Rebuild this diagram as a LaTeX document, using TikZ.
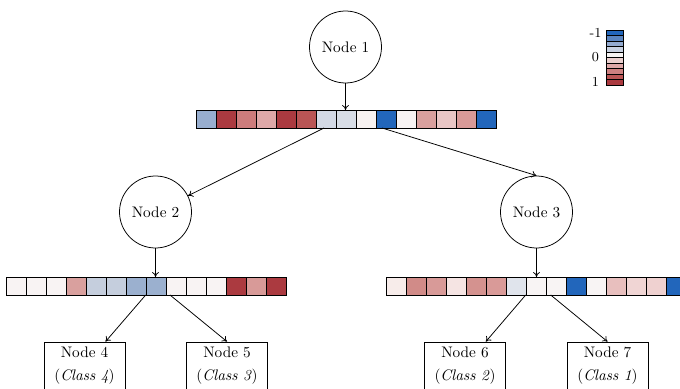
\documentclass[tikz,border=0pt]{standalone}
\usetikzlibrary{arrows.meta}
\tikzset{
  treenode/.style={draw, circle, line width=0.5pt, minimum size=47.16pt, inner sep=0pt, font=\normalsize},
  leafbox/.style={draw, rectangle, line width=0.5pt, minimum width=53.06pt, minimum height=31.44pt, inner sep=0pt, align=center},
  strip/.style={rectangle, inner sep=0pt, minimum height=11.79pt},
  conn/.style={line width=0.5pt, -{To[length=3.2pt,width=4.4pt]}},
  cell/.style={draw=black, line width=0.55pt},
  barlabel/.style={font=\small, inner sep=0pt}
}
\newcommand{\cellrow}[3]{%
  \foreach \c [count=\i from 0] in {#3} {%
    \definecolor{tmpc}{HTML}{\c}%
    \filldraw[cell, fill=tmpc] (#1+20*\i,#2) rectangle ++(20,18);
  }%
}
\begin{document}
\begin{tikzpicture}[x=0.655pt,y=-0.655pt]
\useasboundingbox (0,0) rectangle (680,389);
\clip (0,0) rectangle (680,389);

% nodes
\node[treenode] (n1) at (345.5,47) {Node 1};
\node[treenode] (n2) at (155.5,212) {Node 2};
\node[treenode] (n3) at (536.5,212) {Node 3};

% strips
\node[strip, minimum width=196.5pt, anchor=north west] (s1) at (196,110) {};
\node[strip, minimum width=183.4pt, anchor=north west] (s2) at (6,277) {};
\node[strip, minimum width=196.5pt, anchor=north west] (s3) at (386.7,277) {};

\cellrow{196}{110}{98AECF,AB3A40,CD7C7C,DEA8A8,AB3A40,B95555,D3D9E5,D8DDE6,F7F2F1,2266BB,F7F3F3,D9A09E,E9C6C5,D99A98,2266BB}
\cellrow{6}{277}{F8F3F3,F8F3F3,F8F3F3,D9A09E,C5CEDD,C5CEDD,9BB0CF,9BB0CF,F8F3F3,F8F3F3,F8F3F3,AB3A40,D89A98,AB3A40}
\cellrow{386.7}{277}{F7ECEA,D18B88,D89A98,F5E4E3,D4928F,D99A98,E0E4EC,F8F4F4,F8F4F4,2266BB,F8F4F4,E8BFBE,F0D5D4,EFD1D0,2266BB}

% leaves
\node[leafbox] (n4) at (84.5,366) {Node 4\\[3pt](\textit{Class 4})};
\node[leafbox] (n5) at (227,366) {Node 5\\[3pt](\textit{Class 3})};
\node[leafbox] (n6) at (465,366) {Node 6\\[3pt](\textit{Class 2})};
\node[leafbox] (n7) at (607.5,366) {Node 7\\[3pt](\textit{Class 1})};

% connector start points on strips
\coordinate (s1a) at (324,128);
\coordinate (s1b) at (382,128);
\coordinate (s2a) at (145.7,295);
\coordinate (s2b) at (170,295);
\coordinate (s3a) at (525.7,295);
\coordinate (s3b) at (550.7,295);

% connectors
\draw[conn] (n1.south) -- (n1.south |- s1.north);
\draw[conn] (n2.south) -- (n2.south |- s2.north);
\draw[conn] (n3.south) -- (n3.south |- s3.north);
\draw[conn] (s1a) -- (n2);
\draw[conn] (s1b) -- (n3.north);
\draw[conn] (s2a) -- (n4);
\draw[conn] (s2b) -- (n5.north);
\draw[conn] (s3a) -- (n6);
\draw[conn] (s3b) -- (n7.north);

% colour bar
\foreach \c [count=\i from 0] in {2266BB,5B85C0,93AACF,C8D1E1,F6F3F2,EBD0CF,DEA8A8,CE8080,BB5555,AB3A40} {%
  \definecolor{tmpc}{HTML}{\c}%
  \filldraw[cell, fill=tmpc] (606,30+5.5*\i) rectangle ++(17.5,5.5);
}
\node[barlabel] (lm1) at (595.5,33) {-1};
\node[barlabel] (l0) at (595.5,57.5) {0};
\node[barlabel] (l1) at (595.5,82) {1};
\end{tikzpicture}
\end{document}
